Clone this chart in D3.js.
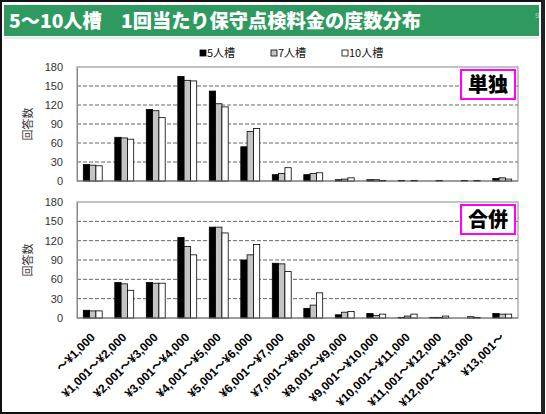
<!DOCTYPE html>
<html><head><meta charset="utf-8">
<script src="https://cdn.jsdelivr.net/npm/d3@7"></script>
<style>
html,body{margin:0;padding:0;background:#fff;}
svg{display:block;}
text{font-family:"Liberation Sans","Noto Sans CJK JP",sans-serif;}
</style></head>
<body>
<script>
const title = "5～10人槽　1回当たり保守点検料金の度数分布";
const categories = ["～¥1,000","¥1,001～¥2,000","¥2,001～¥3,000","¥3,001～¥4,000","¥4,001～¥5,000","¥5,001～¥6,000","¥6,001～¥7,000","¥7,001～¥8,000","¥8,001～¥9,000","¥9,001～¥10,000","¥10,001～¥11,000","¥11,001～¥12,000","¥12,001～¥13,000","¥13,001～"];
const seriesNames = ["5人槽","7人槽","10人槽"];
const seriesColors = ["#000000","#c4c4c4","#ffffff"];
const yTicks = [0,30,60,90,120,150,180];
const yTitle = "回答数";
const panelLabels = ["単独","合併"];
// 単独
const tandoku5  = [26, 69, 113, 165, 142, 54, 10, 10, 2, 2, 1, 0, 1, 4];
const tandoku7  = [25, 68, 111, 159, 122, 78, 12, 12, 3, 2, 0, 1, 0, 5];
const tandoku10 = [24, 66, 100, 158, 117, 83, 21, 13, 5, 1, 1, 0, 1, 3];
// 合併
const gappei5  = [12, 55, 55, 125, 141, 90, 85, 15, 5, 7, 1, 1, 0, 7];
const gappei7  = [11, 53, 54, 111, 141, 98, 84, 20, 9, 4, 3, 1, 2, 6];
const gappei10 = [11, 43, 54, 98, 132, 114, 72, 39, 10, 6, 6, 3, 1, 6];

const W = 546, H = 414;
const svg = d3.select("body").append("svg").attr("width", W).attr("height", H);

svg.append("rect").attr("x",0).attr("y",0).attr("width",W).attr("height",H).attr("fill","#fff");
// header
svg.append("rect").attr("x",4).attr("y",5).attr("width",535).attr("height",31).attr("fill","#2f9a5f");
svg.append("line").attr("x1",4).attr("x2",539).attr("y1",38).attr("y2",38).attr("stroke","#bfe3cc").attr("stroke-width",1);
svg.append("text").attr("x",9).attr("y",28).attr("fill","#fff")
  .style("font-family","'Noto Sans CJK JP',sans-serif").style("font-weight","900").style("font-size","19px")
  .attr("textLength",412).attr("lengthAdjust","spacingAndGlyphs").text(title);
svg.append("text").attr("x",535).attr("y",18).attr("fill","#a8d8b8").style("font-size","8px").text("9");
svg.append("rect").attr("x",1).attr("y",1).attr("width",W-4).attr("height",H-2)
  .attr("fill","none").attr("stroke","#111").attr("stroke-width",2);
svg.append("line").attr("x1",543).attr("x2",543).attr("y1",0).attr("y2",H).attr("stroke","#222").attr("stroke-width",4);

// legend
const legendX = [200, 271, 342];
seriesNames.forEach((n,i)=>{
  const g = svg.append("g").attr("transform",`translate(${legendX[i]},57)`);
  g.append("rect").attr("x",0).attr("y",-7).attr("width",6).attr("height",6)
    .attr("fill",seriesColors[i]).attr("stroke","#000").attr("stroke-width",0.8);
  g.append("text").attr("x",7).attr("y",0).style("font-size","11px").attr("fill","#111")
    .style("font-family","'Noto Sans CJK JP',sans-serif").text(n);
});

const x0 = d3.scaleBand().domain(categories).range([77,518]).paddingInner(0.4).paddingOuter(0.2);
const x1 = d3.scaleBand().domain(seriesNames).range([0,x0.bandwidth()]);

function panel(top, bottom, data, label, showX){
  const y = d3.scaleLinear().domain([0,180]).range([bottom, top]);
  const g = svg.append("g");
  g.selectAll(".grid").data(yTicks.filter(t=>t>0 && t<180)).join("line")
    .attr("x1",77).attr("x2",518).attr("y1",d=>y(d)).attr("y2",d=>y(d))
    .attr("stroke","#666").attr("stroke-width",1).attr("stroke-dasharray","4,2");
  g.append("rect").attr("x",77).attr("y",top).attr("width",441).attr("height",bottom-top)
    .attr("fill","none").attr("stroke","#888").attr("stroke-width",1);
  const ya = g.append("g").attr("transform","translate(77,0)")
    .call(d3.axisLeft(y).tickValues(yTicks).tickSize(0).tickPadding(14));
  ya.select(".domain").attr("stroke","#888");
  ya.selectAll("text").style("font-size","11px").attr("fill","#333")
    .style("font-family","'Liberation Sans',sans-serif");
  g.append("text").attr("transform",`translate(32,${(top+bottom)/2}) rotate(-90)`)
    .attr("text-anchor","middle").style("font-size","11px").attr("fill","#333")
    .style("font-family","'Noto Sans CJK JP',sans-serif").text(yTitle);
  const groups = g.selectAll(".grp").data(categories).join("g")
    .attr("transform",d=>`translate(${x0(d)},0)`);
  groups.selectAll("rect").data((d,i)=>seriesNames.map((s,k)=>({s,v:data[k][i],k}))).join("rect")
    .attr("x",d=>x1(d.s)).attr("width",x1.bandwidth())
    .attr("y",d=>y(d.v)).attr("height",d=>bottom-y(d.v))
    .attr("fill",d=>seriesColors[d.k]).attr("stroke","#000").attr("stroke-width",0.8);
  g.append("line").attr("x1",77).attr("x2",518).attr("y1",bottom).attr("y2",bottom)
    .attr("stroke","#777").attr("stroke-width",1.2);
  g.append("rect").attr("x",461).attr("y",top+3).attr("width",54).attr("height",29)
    .attr("fill","#fff").attr("stroke","#ff00ff").attr("stroke-width",2);
  g.append("text").attr("x",488).attr("y",top+25).attr("text-anchor","middle")
    .style("font-family","'Noto Sans CJK JP',sans-serif").style("font-weight","900")
    .style("font-size","20px").attr("fill","#000").text(label);
  if(showX){
    const xa = g.append("g").attr("transform",`translate(0,${bottom})`)
      .call(d3.axisBottom(x0).tickSize(0).tickPadding(0));
    xa.select(".domain").remove();
    xa.selectAll("text").attr("text-anchor","end")
      .attr("transform","translate(0,17) rotate(-45)").attr("dy","0.35em").attr("y",0)
      .style("font-size","12px").style("font-weight","bold").attr("fill","#000")
      .style("font-family","'Liberation Sans','Noto Sans CJK JP',sans-serif");
  }
}
panel(67, 181, [tandoku5, tandoku7, tandoku10], panelLabels[0], false);
panel(202, 318, [gappei5, gappei7, gappei10], panelLabels[1], true);
</script>
</body></html>
